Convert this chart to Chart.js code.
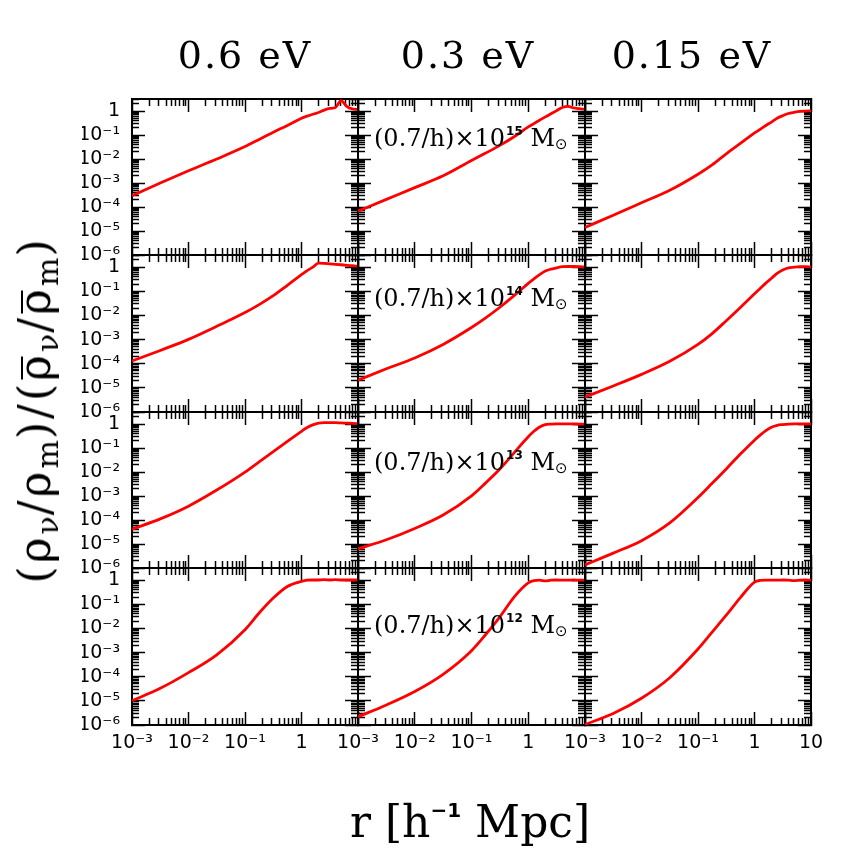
<!DOCTYPE html>
<html>
<head>
<meta charset="utf-8">
<script src="https://cdn.jsdelivr.net/npm/chart.js@4.4.1/dist/chart.umd.min.js"></script>
<style>
html,body{margin:0;padding:0;background:#fff;}
#wrap{position:relative;width:856px;height:856px;overflow:hidden;background:#fff;}
#wrap canvas{position:absolute;left:0;top:0;}
.txt{position:absolute;white-space:nowrap;font-family:'DejaVu Serif',serif;color:#000;line-height:1;}
.title{font-size:38px;letter-spacing:2px;transform:translate(-50%,-50%);}
.ann{font-size:24px;transform:translateY(-50%);}
.ann .sup{font-family:'DejaVu Sans',sans-serif;font-weight:bold;font-size:12px;position:relative;top:-11px;margin-left:1px;}
.ann .sub{font-family:'DejaVu Sans',sans-serif;font-size:15px;position:relative;top:3px;}
#ytitle{font-size:44px;letter-spacing:3px;left:35px;top:410px;transform:translate(-50%,-50%) rotate(-90deg);}
#ytitle .s{font-size:30px;position:relative;top:8px;letter-spacing:1px;}
#ytitle .bar{position:relative;}
#ytitle .bar::before{content:'';position:absolute;left:6%;right:14%;top:12px;border-top:2.5px solid #000;}
#xtitle{font-size:44px;left:470px;top:822px;transform:translate(-50%,-50%);}
#xtitle .sup{font-family:'DejaVu Sans',sans-serif;font-weight:bold;font-size:20px;position:relative;top:-20px;}
</style>
</head>
<body>
<div id="wrap"></div>
<script>
// ---- data ----
const radius = [0.001, 0.003162, 0.01, 0.03162, 0.1, 0.1778, 0.3162, 0.5623, 1, 1.259, 1.585, 1.995, 2.512, 3.162, 3.981, 5.012, 6.310, 7.943, 10];

const ratio_06eV_M15  = [2.95e-4, 1.0e-3, 3.24e-3, 1.0e-2, 3.31e-2, 6.61e-2, 0.132, 0.251, 0.501, 0.617, 0.741, 0.871, 1.10, 1.29, 1.41, 2.75, 1.58, 1.23, 1.17];
const ratio_03eV_M15  = [6.76e-5, 2.09e-4, 6.46e-4, 2.0e-3, 8.71e-3, 1.78e-2, 3.72e-2, 8.51e-2, 0.219, 0.302, 0.417, 0.575, 0.776, 1.05, 1.41, 1.58, 1.35, 1.26, 1.20];
const ratio_015eV_M15 = [1.41e-5, 4.57e-5, 1.51e-4, 5.01e-4, 2.34e-3, 5.75e-3, 1.66e-2, 4.47e-2, 0.123, 0.174, 0.251, 0.347, 0.501, 0.646, 0.794, 0.891, 0.977, 1.0, 1.02];

const ratio_06eV_M14  = [1.29e-4, 3.55e-4, 1.02e-3, 3.55e-3, 1.32e-2, 2.82e-2, 6.61e-2, 0.178, 0.490, 0.724, 1.0, 1.48, 1.45, 1.38, 1.32, 1.26, 1.20, 1.15, 1.10];
const ratio_03eV_M14  = [2.09e-5, 6.17e-5, 1.74e-4, 6.31e-4, 3.16e-3, 7.94e-3, 2.19e-2, 6.61e-2, 0.214, 0.331, 0.490, 0.692, 0.832, 0.933, 1.05, 1.07, 1.07, 1.05, 1.0];
const ratio_015eV_M14 = [4.17e-6, 1.20e-5, 3.63e-5, 1.26e-4, 6.31e-4, 1.78e-3, 6.03e-3, 2.14e-2, 7.94e-2, 0.132, 0.219, 0.347, 0.550, 0.759, 0.933, 1.0, 1.05, 1.05, 1.02];

const ratio_06eV_M13  = [4.17e-5, 1.12e-4, 3.80e-4, 1.78e-3, 1.0e-2, 2.69e-2, 7.08e-2, 0.191, 0.501, 0.724, 0.933, 1.10, 1.15, 1.15, 1.15, 1.12, 1.10, 1.07, 1.05];
const ratio_03eV_M13  = [6.31e-6, 1.51e-5, 4.47e-5, 1.62e-4, 1.02e-3, 3.55e-3, 1.35e-2, 6.31e-2, 0.295, 0.501, 0.759, 0.955, 1.0, 1.02, 1.02, 1.02, 1.02, 1.0, 1.0];
const ratio_015eV_M13 = [1.35e-6, 4.17e-6, 1.38e-5, 7.59e-5, 8.71e-4, 3.39e-3, 1.35e-2, 5.62e-2, 0.214, 0.347, 0.537, 0.741, 0.891, 0.955, 1.0, 1.02, 1.02, 1.02, 1.02];

const ratio_06eV_M12  = [1.02e-5, 3.31e-5, 1.48e-4, 8.13e-4, 8.91e-3, 4.37e-2, 0.182, 0.550, 0.891, 1.0, 1.02, 1.02, 1.05, 1.02, 1.05, 1.02, 1.02, 1.02, 1.02];
const ratio_03eV_M12  = [2.19e-6, 6.76e-6, 2.45e-5, 1.26e-4, 1.20e-3, 5.62e-3, 3.02e-2, 0.200, 0.776, 0.955, 1.0, 0.933, 1.0, 1.02, 1.0, 1.0, 1.02, 1.0, 1.0];
const ratio_015eV_M12 = [1.05e-6, 3.02e-6, 1.29e-5, 9.12e-5, 1.41e-3, 7.08e-3, 3.55e-2, 0.191, 0.832, 0.977, 1.0, 1.0, 1.0, 1.02, 1.0, 0.955, 1.0, 1.02, 1.0];

const neutrinoMassLabels = ['0.6 eV', '0.3 eV', '0.15 eV'];
const haloMassExponents = ['15', '14', '13', '12'];

const xMajorTicks = [1e-3, 1e-2, 1e-1, 1, 10];
const xTickLabels = ['10⁻³', '10⁻²', '10⁻¹', '1', '10'];
const yMajorTicks = [1e-6, 1e-5, 1e-4, 1e-3, 1e-2, 1e-1, 1];
const yTickLabels = ['10⁻⁶', '10⁻⁵', '10⁻⁴', '10⁻³', '10⁻²', '10⁻¹', '1'];
const minorMultipliers = [2, 3, 4, 5, 6, 7, 8, 9];

const panelSeries = [
  [ratio_06eV_M15, ratio_03eV_M15, ratio_015eV_M15],
  [ratio_06eV_M14, ratio_03eV_M14, ratio_015eV_M14],
  [ratio_06eV_M13, ratio_03eV_M13, ratio_015eV_M13],
  [ratio_06eV_M12, ratio_03eV_M12, ratio_015eV_M12]
];

// ---- layout ----
const W = 856;
const colEdges = [132, 358, 585, 811];
const rowEdges = [99, 255, 412, 568, 725];
const X_MIN = 1e-3, X_MAX = 10, Y_MIN = 1e-6, Y_MAX = 3.2;
const LABEL_BOX = 50;
const titleCenters = [245, 468, 692];
const annCenters = [137.6, 297.7, 461.7, 625];

const xMinorTicks = [];
xMajorTicks.slice(0, -1).forEach(d => minorMultipliers.forEach(m => xMinorTicks.push(+(m * d).toPrecision(3))));
const yMinorTicks = [];
yMajorTicks.forEach(d => minorMultipliers.forEach(m => { const v = +(m * d).toPrecision(3); if (v < Y_MAX) yMinorTicks.push(v); }));

function axisCfg(o) {
  const isX = o.axis === 'x';
  const size = o.labels ? LABEL_BOX : 0;
  return {
    type: 'logarithmic', axis: o.axis, position: o.position,
    weight: o.border ? 1 : 0,
    min: isX ? X_MIN : Y_MIN, max: isX ? X_MAX : Y_MAX,
    afterBuildTicks: a => { a.ticks = o.ticks.map(v => ({ value: v })); },
    afterFit: a => { if (isX) a.height = size; else a.width = size; },
    ticks: {
      display: !!o.labels, autoSkip: false, maxRotation: 0, minRotation: 0,
      padding: o.padding || 0, color: '#000',
      font: { family: "'DejaVu Sans', sans-serif", size: 19 },
      callback: (v, i) => (o.labels ? o.labels[i] : '')
    },
    grid: { display: true, drawOnChartArea: false, drawTicks: true, tickLength: o.len,
            tickWidth: 1.5, tickColor: '#000', color: '#000', lineWidth: 1 },
    border: { display: !!o.border, color: '#000', width: 2 }
  };
}

const wrap = document.getElementById('wrap');
for (let r = 0; r < 4; r++) {
  for (let c = 0; c < 3; c++) {
    const cv = document.createElement('canvas');
    cv.width = W; cv.height = W;
    wrap.appendChild(cv);
    const vals = panelSeries[r][c];
    const xl = r === 3 ? xTickLabels.map((t, i) => (i === xTickLabels.length - 1 && c < 2) ? '' : t) : null;
    const yl = c === 0 ? yTickLabels : null;
    new Chart(cv, {
      type: 'line',
      data: {
        datasets: [{
          data: radius.map((x, i) => ({ x: x, y: vals[i] })),
          xAxisID: 'x', yAxisID: 'y',
          borderColor: '#ff0000', borderWidth: 2.8, pointRadius: 0, fill: false,
          cubicInterpolationMode: 'monotone'
        }]
      },
      options: {
        responsive: false, animation: false, devicePixelRatio: 1, events: [],
        layout: { autoPadding: false, padding: {
          left: colEdges[c] - (yl ? LABEL_BOX : 0),
          right: W - colEdges[c + 1],
          top: rowEdges[r],
          bottom: W - rowEdges[r + 1] - (xl ? LABEL_BOX : 0) } },
        plugins: { legend: { display: false }, tooltip: { enabled: false } },
        scales: {
          x:   axisCfg({ axis: 'x', position: 'bottom', ticks: xMajorTicks, len: -13, border: true, labels: xl, padding: 20 }),
          xb2: axisCfg({ axis: 'x', position: 'bottom', ticks: xMinorTicks, len: -7 }),
          xt:  axisCfg({ axis: 'x', position: 'top', ticks: xMajorTicks, len: -13, border: true }),
          xt2: axisCfg({ axis: 'x', position: 'top', ticks: xMinorTicks, len: -7 }),
          y:   axisCfg({ axis: 'y', position: 'left', ticks: yMajorTicks, len: -13, border: true, labels: yl, padding: 25 }),
          yl2: axisCfg({ axis: 'y', position: 'left', ticks: yMinorTicks, len: -7 }),
          yr:  axisCfg({ axis: 'y', position: 'right', ticks: yMajorTicks, len: -13, border: true }),
          yr2: axisCfg({ axis: 'y', position: 'right', ticks: yMinorTicks, len: -7 })
        }
      }
    });
  }
}

// ---- texts ----
neutrinoMassLabels.forEach((t, c) => {
  const d = document.createElement('div');
  d.className = 'txt title';
  d.style.left = titleCenters[c] + 'px';
  d.style.top = '55px';
  d.textContent = t;
  wrap.appendChild(d);
});
haloMassExponents.forEach((e, r) => {
  const d = document.createElement('div');
  d.className = 'txt ann';
  d.style.left = '374px';
  d.style.top = annCenters[r] + 'px';
  d.innerHTML = '(0.7/h)×10<span class="sup">' + e + '</span>&nbsp;M<span class="sub">⊙</span>';
  wrap.appendChild(d);
});
const yt = document.createElement('div');
yt.className = 'txt'; yt.id = 'ytitle';
yt.innerHTML = '(ρ<span class="s">ν</span>/ρ<span class="s">m</span>)/(<span class="bar">ρ</span><span class="s">ν</span>/<span class="bar">ρ</span><span class="s">m</span>)';
wrap.appendChild(yt);
const xt = document.createElement('div');
xt.className = 'txt'; xt.id = 'xtitle';
xt.innerHTML = 'r&nbsp;[h<span class="sup">−1</span>&nbsp;Mpc]';
wrap.appendChild(xt);
</script>
</body>
</html>
